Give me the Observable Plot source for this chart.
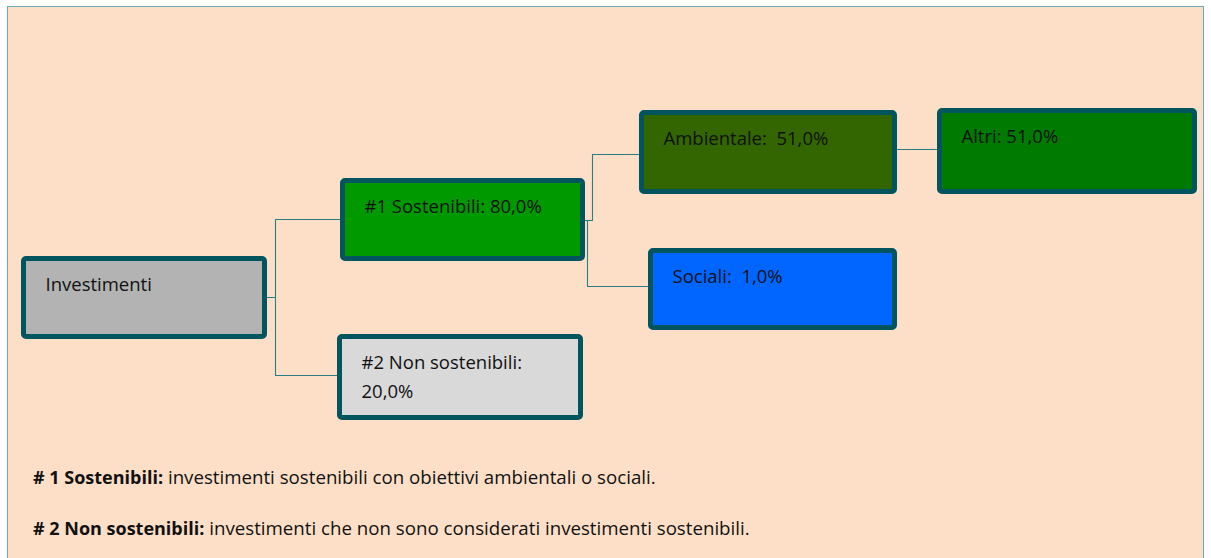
<!DOCTYPE html>
<html>
<head>
<meta charset="utf-8">
<script src="https://cdn.jsdelivr.net/npm/d3@7"></script>
<script src="https://cdn.jsdelivr.net/npm/@observablehq/plot@0.6"></script>
<style>
  html, body { margin: 0; padding: 0; background: #ffffff; }
  body { width: 1211px; height: 558px; position: relative; overflow: hidden; font-family: "Open Sans", sans-serif; }
  #panel { position: absolute; left: 7px; top: 6px; width: 1197px; height: 600px;
           background: #fddfc7; border: 1.5px solid #6aa9b1; box-sizing: border-box; }
  #chart { position: absolute; left: 0; top: 0; }
  .note { position: absolute; left: 33px; font-size: 18.7px; line-height: 20px; color: #111; white-space: nowrap; }
  .note b { font-weight: 700; font-size: 18px; }
</style>
</head>
<body>
<div id="panel"></div>
<div id="chart"></div>
<div class="note" id="note1"></div>
<div class="note" id="note2"></div>
<script>
// ---- data ----
const nodeNames = ["Investimenti", "#1 Sostenibili", "#2 Non sostenibili", "Ambientale", "Sociali", "Altri"];
const nodeValues = [null, 80.0, 20.0, 51.0, 1.0, 51.0];
const nodeParents = [null, 0, 0, 1, 1, 3];
const nodeSeparators = ["", ": ", ":\n", ":  ", ":  ", ": "];
const noteTerms = ["# 1 Sostenibili:", "# 2 Non sostenibili:"];
const noteTexts = ["investimenti sostenibili con obiettivi ambientali o sociali.",
                   "investimenti che non sono considerati investimenti sostenibili."];

// ---- layout (diagram geometry, px) ----
const boxX1 = [21, 340, 337, 639, 648, 937];
const boxX2 = [267, 585, 583, 897, 897, 1197];
const boxY1 = [256, 178, 334, 110, 248, 108];
const boxY2 = [339, 261, 420, 194, 330, 194];
const outY = [297, 220, 377, 149, 289, 151];   // where links leave a box
const inY  = [297, 219, 375, 154, 286, 149];   // where links enter a box
const elbowX = [null, 275, 275, 592, 587, null];
const fills = ["#b3b3b3", "#009900", "#d9d9d9", "#336600", "#0066ff", "#007a00"];

const fmt = v => v.toFixed(1).replace(".", ",") + "%";
const nodes = nodeNames.map((name, i) => ({
  i, name,
  label: nodeValues[i] == null ? name : name + nodeSeparators[i] + fmt(nodeValues[i]),
  x1: boxX1[i], x2: boxX2[i], y1: boxY1[i], y2: boxY2[i], fill: fills[i]
}));

const linkPts = [];
nodes.forEach((n, i) => {
  const p = nodeParents[i];
  if (p == null) return;
  const px = boxX2[p], py = outY[p], cx = boxX1[i], cy = inY[i];
  if (elbowX[i] == null) {
    linkPts.push({k: i, x: px, y: cy}, {k: i, x: cx, y: cy});
  } else {
    linkPts.push({k: i, x: px, y: py}, {k: i, x: elbowX[i], y: py},
                 {k: i, x: elbowX[i], y: cy}, {k: i, x: cx, y: cy});
  }
});

const W = 1211, H = 440, FS = 18.5, LH = 29;
const chart = Plot.plot({
  width: W, height: H,
  margin: 0,
  x: {domain: [0, W], range: [0, W], axis: null},
  y: {domain: [0, H], range: [0, H], axis: null},
  style: {background: "transparent", fontFamily: "'Open Sans', sans-serif"},
  marks: [
    Plot.line(linkPts, {x: "x", y: "y", z: "k", stroke: "#2a7c87", strokeWidth: 1.1, curve: "linear"}),
    Plot.rect(nodes, {x1: "x1", x2: "x2", y1: "y1", y2: "y2", fill: d => d.fill,
                      stroke: "#01555f", strokeWidth: 5, inset: 2.5, rx: 2.5}),
    Plot.text(nodes, {x: d => d.x1 + 24, y: d => d.y1 + 35 - 0.71 * LH, text: "label",
                      textAnchor: "start", lineAnchor: "top", lineHeight: LH / FS,
                      fontSize: FS, fill: "#111"})
  ]
});
document.getElementById("chart").appendChild(chart);

const n1 = document.getElementById("note1");
const n2 = document.getElementById("note2");
[n1, n2].forEach((el, i) => {
  const b = document.createElement("b"); b.textContent = noteTerms[i];
  el.appendChild(b);
  el.appendChild(document.createTextNode(" " + noteTexts[i]));
});
n1.style.top = "467px";
n2.style.top = "518px";
</script>
</body>
</html>
